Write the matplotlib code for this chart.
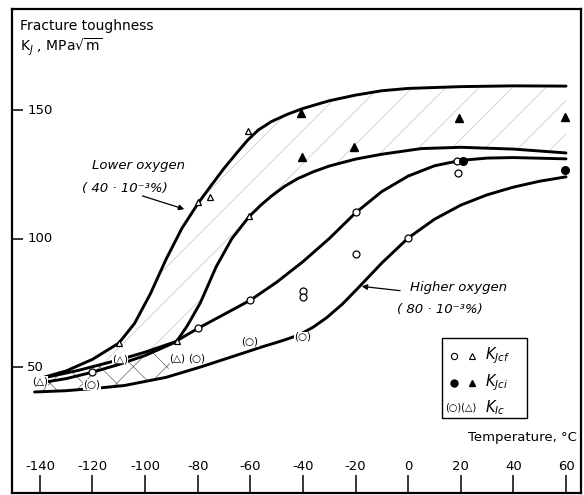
import numpy as np
import matplotlib
matplotlib.use("Agg")
import matplotlib.pyplot as plt
from matplotlib.patches import Rectangle

# ---------------- data ----------------
x_ticks = [-140, -120, -100, -80, -60, -40, -20, 0, 20, 40, 60]
y_ticks = [50, 100, 150]

# Lower oxygen band - upper curve
T_A = [-142, -130, -120, -110, -104, -98, -92, -86, -80, -75, -70, -65, -61, -57, -52, -46, -40, -30, -20, -10, 0, 20, 40, 60]
K_A = [45, 48.5, 53, 59.3, 67, 78.5, 92, 104, 113.5, 120.5, 127.3, 133.5, 138.3, 142.2, 145.5, 148.3, 150.6, 153.6, 155.8, 157.5, 158.4, 159.1, 159.4, 159.3]
# Lower oxygen band - lower curve
T_B = [-142, -125, -110, -100, -92, -88, -84, -79, -73, -67, -60.5, -56, -52, -47, -42, -36, -30, -20, -10, 5, 20, 40, 60]
K_B = [45, 48.8, 52.8, 55.8, 58.6, 60, 66, 75, 89, 100, 108.5, 113, 116.5, 120.3, 123.3, 126, 128.2, 130.9, 132.8, 135, 135.5, 134.8, 133.3]
# Higher oxygen band - upper curve
T_C = [-142, -130, -120, -110, -100, -90, -80, -70, -60, -50, -40, -30, -20, -10, 0, 10, 20, 30, 40, 60]
K_C = [43.5, 45.5, 48, 51, 54.5, 59, 65, 70.5, 76, 83, 91, 100, 110, 118.3, 124.3, 128.3, 130.4, 131.3, 131.5, 131]
# Higher oxygen band - lower curve
T_D = [-142, -130, -118, -108, -92, -79, -67, -56, -48, -44, -40, -36, -31, -25, -19, -10, 0, 10, 20, 30, 40, 50, 60]
K_D = [40.3, 40.8, 41.8, 42.8, 46, 50, 54, 57.7, 60.2, 61.6, 63.3, 65.6, 69.2, 74.5, 80.8, 90.5, 100.2, 107.5, 113, 117, 120, 122.3, 124]

# K_Jcf (open symbols)
jcf_circ_T = [-120, -80, -60, -40, -40, -20, -20, 0, 18.6, 19]
jcf_circ_K = [48, 65.2, 76, 79.6, 77.4, 110.3, 94, 100.2, 130, 125.5]
jcf_tri_T = [-110, -88, -80, -75.4, -61, -60.5]
jcf_tri_K = [59.3, 60, 114.2, 116.2, 141.8, 108.8]
# K_Jci (filled symbols)
jci_circ_T = [20.8, 59.6]
jci_circ_K = [130, 126.6]
jci_tri_T = [-40.8, -40.4, -20.6, 19.3, 59.6]
jci_tri_K = [148.8, 131.7, 135.6, 146.9, 147.3]
# K_Ic (parenthesised symbols)
kic_tri_T = [-140, -109.6, -88]
kic_tri_K = [44.4, 53.1, 53.5]
kic_circ_T = [-120.2, -80.3, -60.2, -40]
kic_circ_K = [43.2, 53.5, 60, 61.7]

# ---------------- figure ----------------
plt.rcParams['font.family'] = ['DejaVu Sans']
plt.rcParams['hatch.linewidth'] = 0.5
W, H = 584, 495
fig = plt.figure(figsize=(W / 100, H / 100), dpi=100)
ax = fig.add_axes([12 / W, 2 / H, 569 / W, 484 / H])
ax.set_xlim(-150.6, 65.7)
ax.set_ylim(1.0, 189.3)
for s in ax.spines.values():
    s.set_linewidth(1.6)

ax.set_xticks(x_ticks)
ax.set_yticks(y_ticks)
ax.tick_params(axis='x', direction='in', length=13, width=1.1, labelbottom=False)
ax.tick_params(axis='y', direction='in', length=8, width=1.1, labelleft=False)
bx = ax.get_xaxis_transform()
for t in x_ticks:
    ax.text(t, 0.054, f"-{abs(t)}" if t < 0 else f"{t}", transform=bx,
            ha='center', va='center', fontsize=9.5)
by = ax.get_yaxis_transform()
for k in y_ticks:
    ax.text(0.027, k, f"{k}", transform=by, ha='left', va='center', fontsize=9.5)

# hatched scatter bands
ax.fill(np.r_[T_A, T_B[::-1]], np.r_[K_A, K_B[::-1]], fill=False,
        hatch='/', edgecolor='#c4c4c4', linewidth=0, zorder=1)
nb = T_B.index(-88)
nd = T_D.index(-92)
ax.fill(np.r_[T_B[:nb + 1], T_D[:nd + 1][::-1]], np.r_[K_B[:nb + 1], K_D[:nd + 1][::-1]],
        fill=False, hatch='x', edgecolor='#666666', linewidth=0, zorder=1)

# curves
for T, K in [(T_A, K_A), (T_B, K_B), (T_C, K_C), (T_D, K_D)]:
    ax.plot(T, K, color='black', lw=2.1, solid_capstyle='round', solid_joinstyle='round', zorder=3)

# symbols
ax.plot(jcf_circ_T, jcf_circ_K, 'o', ms=5, mfc='white', mec='black', mew=0.9, ls='none', zorder=4)
ax.plot(jcf_tri_T, jcf_tri_K, '^', ms=5, mfc='white', mec='black', mew=0.9, ls='none', zorder=4)
ax.plot(jci_circ_T, jci_circ_K, 'o', ms=5.5, color='black', ls='none', zorder=4)
ax.plot(jci_tri_T, jci_tri_K, '^', ms=5.5, color='black', ls='none', zorder=4)
pbox = dict(facecolor='white', edgecolor='none', pad=0.2)
for t, k in zip(kic_tri_T, kic_tri_K):
    ax.text(t, k, "(\u25b3)", ha='center', va='center', fontsize=7.5, zorder=5, bbox=pbox)
for t, k in zip(kic_circ_T, kic_circ_K):
    ax.text(t, k, "(\u25cb)", ha='center', va='center', fontsize=7.5, zorder=5, bbox=pbox)

# annotations
ax.text(-120.2, 128.6, "Lower oxygen", style='italic', fontsize=9.5, ha='left', va='center')
ax.text(-124, 119.6, "( 40 \u00b7 10\u207b\u00b3%)", style='italic', fontsize=9.5, ha='left', va='center')
ax.annotate("", xy=(-84.1, 111.1), xytext=(-102, 116.9),
            arrowprops=dict(arrowstyle='-|>', color='black', lw=0.9, mutation_scale=8))
ax.text(0.7, 81.1, "Higher oxygen", style='italic', fontsize=9.5, ha='left', va='center')
ax.text(-4.3, 72.2, "( 80 \u00b7 10\u207b\u00b3%)", style='italic', fontsize=9.5, ha='left', va='center')
ax.annotate("", xy=(-18.7, 81.5), xytext=(-2.0, 79.6),
            arrowprops=dict(arrowstyle='-|>', color='black', lw=0.9, mutation_scale=8))

# axis titles
fig.text(20 / W, 1 - 26 / H, "Fracture toughness", fontsize=10, ha='left', va='center')
fig.text(20 / W, 1 - 47 / H, r"K$_{J}$ , MPa$\sqrt{\mathrm{m}}$", fontsize=10, ha='left', va='center')
fig.text(577 / W, 1 - 437 / H, "Temperature, \u00b0C", fontsize=9.5, ha='right', va='center')

# legend box
ax.add_patch(Rectangle((0.756, 0.155), 0.149, 0.165, transform=ax.transAxes,
                       fill=False, edgecolor='black', lw=1.0, zorder=6))
rows = [0.283, 0.227, 0.176]
ax.plot([0.777], [rows[0]], 'o', ms=4.5, mfc='white', mec='black', mew=0.8, transform=ax.transAxes, zorder=7)
ax.plot([0.808], [rows[0]], '^', ms=4.5, mfc='white', mec='black', mew=0.8, transform=ax.transAxes, zorder=7)
ax.plot([0.777], [rows[1]], 'o', ms=5, color='black', transform=ax.transAxes, zorder=7)
ax.plot([0.808], [rows[1]], '^', ms=5, color='black', transform=ax.transAxes, zorder=7)
ax.text(0.762, rows[2], "(\u25cb)(\u25b3)", transform=ax.transAxes, ha='left', va='center', fontsize=7)
ax.text(0.831, rows[0], r"$K_{Jcf}$", transform=ax.transAxes, ha='left', va='center', fontsize=10.5)
ax.text(0.831, rows[1], r"$K_{Jci}$", transform=ax.transAxes, ha='left', va='center', fontsize=10.5)
ax.text(0.831, rows[2], r"$K_{Ic}$", transform=ax.transAxes, ha='left', va='center', fontsize=10.5)

fig.savefig("out.png", dpi=100)
